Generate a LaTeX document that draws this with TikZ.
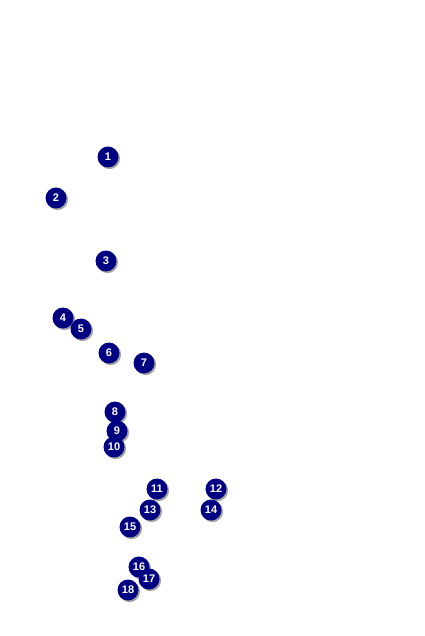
\documentclass[tikz,border=0pt]{standalone}
\usepackage{fontspec}
\setmainfont{Liberation Sans}
\usetikzlibrary{shadows}
\definecolor{marknavy}{RGB}{0,0,128}

\begin{document}
\begin{tikzpicture}[x=1pt,y=-1pt,
  marker/.style={circle,fill=marknavy,text=white,inner sep=0pt,
    minimum size=21pt,font=\fontsize{11}{12}\selectfont\bfseries,
    drop shadow={shadow xshift=1.6pt,shadow yshift=-1.6pt,fill=black!45,opacity=.8}}]

%% ---------------- page frame ----------------
\useasboundingbox (0,0) rectangle (424,636);

%% ---------------- numbered markers, in order ----------------
\foreach \n/\px/\py in {1/108/157,2/56/198,3/106/261,4/63/318,5/81/329,
    6/109/353,7/144/363,8/115/412,9/117/431,10/114/447,11/157/489,
    12/216/489,13/150/510,14/211/510,15/130/527,16/139/567,17/149/579,
    18/128/590}
  \node[marker] (m\n) at (\px,\py) {\n};

\end{tikzpicture}
\end{document}
